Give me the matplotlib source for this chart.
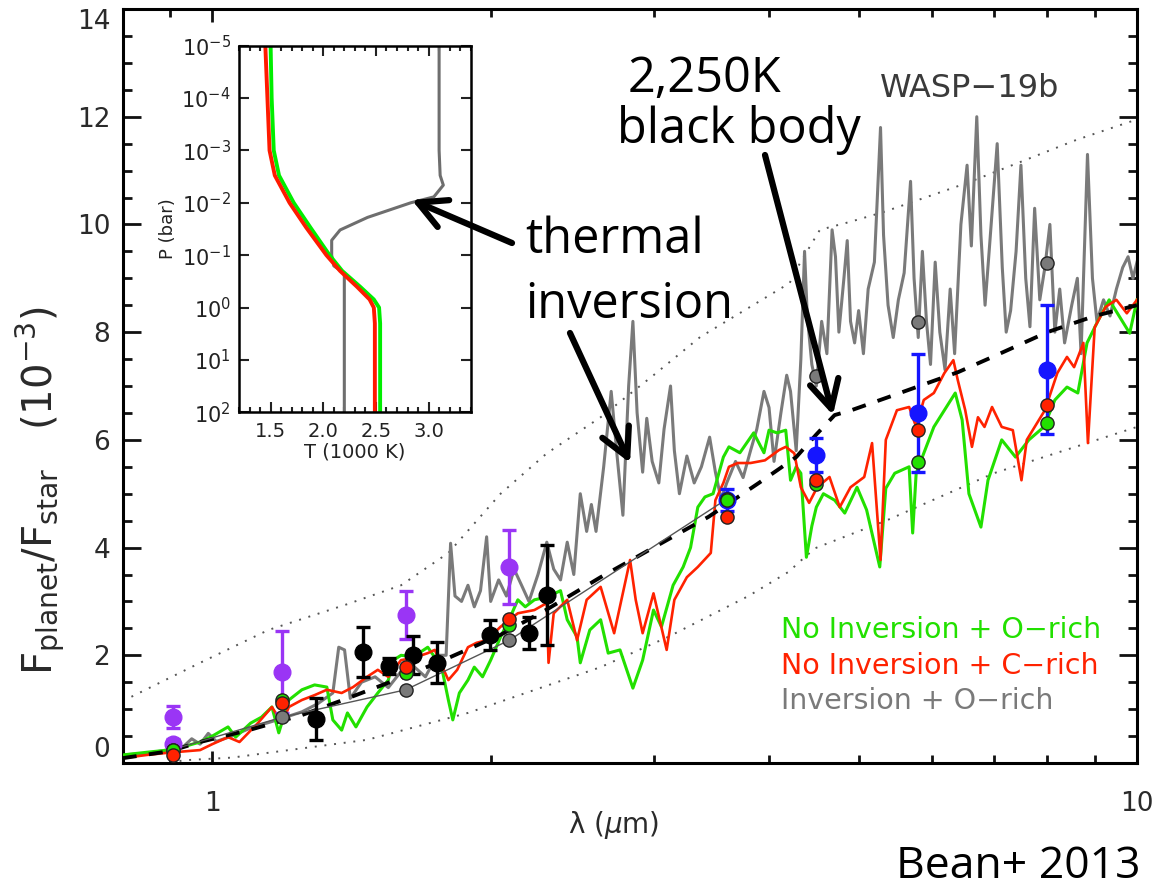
import numpy as np
import matplotlib
matplotlib.use('Agg')
import matplotlib.pyplot as plt
from matplotlib.ticker import FixedLocator, MultipleLocator, NullFormatter, NullLocator

# ---------------- data ----------------
# model spectra (wavelength in micron, Fp/Fs in 1e-3)
inv_wl = [0.80, 0.85, 0.90, 0.93, 0.95, 0.97, 0.99, 1.01, 1.05, 1.10, 1.15, 1.20, 1.25, 1.30,
          1.35, 1.37, 1.39, 1.41, 1.45, 1.50, 1.55, 1.60, 1.65, 1.70, 1.75, 1.79, 1.81, 1.83,
          1.86, 1.89, 1.92, 1.95, 1.98, 2.00, 2.04, 2.08, 2.12, 2.16, 2.20, 2.25, 2.30, 2.34,
          2.38, 2.42, 2.46, 2.50, 2.54, 2.57, 2.60, 2.65, 2.70, 2.74, 2.78, 2.82, 2.85, 2.88,
          2.92, 2.95, 2.99, 3.04, 3.08, 3.13, 3.16, 3.20, 3.26, 3.32, 3.38, 3.45, 3.50, 3.55,
          3.60, 3.68, 3.75, 3.82, 3.88, 3.95, 4.00, 4.05, 4.12, 4.18, 4.22, 4.28, 4.33, 4.37,
          4.40, 4.45, 4.50, 4.56, 4.62, 4.68, 4.72, 4.76, 4.82, 4.86, 4.90, 4.95, 5.00, 5.06,
          5.12, 5.20, 5.28, 5.32, 5.38, 5.45, 5.52, 5.60, 5.69, 5.74, 5.80, 5.86, 5.92, 5.98,
          6.05, 6.12, 6.20, 6.28, 6.35, 6.45, 6.55, 6.62, 6.71, 6.78, 6.85, 6.92, 7.06, 7.15,
          7.22, 7.30, 7.40, 7.49, 7.58, 7.66, 7.75, 7.85, 7.95, 8.05, 8.15, 8.25, 8.35, 8.50,
          8.62, 8.70, 8.84, 8.95, 9.05, 9.20, 9.35, 9.50, 9.65, 9.78, 9.90, 10.0]
inv_val = [0.15, 0.18, 0.25, 0.30, 0.45, 0.35, 0.55, 0.40, 0.50, 0.65, 0.75, 0.85, 0.95, 1.10,
           1.30, 2.15, 2.10, 1.20, 1.50, 1.60, 1.40, 1.70, 1.80, 1.60, 2.00, 2.00, 4.08, 3.10,
           3.00, 3.30, 2.90, 3.20, 4.20, 3.00, 3.40, 3.10, 3.60, 3.30, 3.00, 3.50, 4.10, 3.60,
           3.40, 4.10, 3.50, 5.00, 4.30, 4.80, 4.30, 5.50, 6.90, 5.70, 4.60, 7.00, 8.20, 6.50,
           5.40, 6.40, 5.60, 5.20, 6.20, 7.00, 5.80, 5.00, 5.70, 5.20, 5.50, 6.05, 5.40, 4.90,
           5.20, 5.60, 5.30, 5.80, 6.20, 6.90, 6.60, 5.60, 6.50, 7.20, 6.90, 5.80, 7.50, 9.50,
           8.30, 7.40, 7.00, 8.20, 7.60, 9.90, 9.40, 8.00, 9.00, 9.70, 8.20, 7.80, 8.40, 7.60,
           8.80, 9.30, 11.8, 9.80, 8.50, 7.90, 8.60, 9.10, 10.8, 9.00, 7.90, 9.50, 8.20, 7.40,
           9.30, 8.00, 7.30, 8.80, 7.60, 10.0, 11.1, 9.60, 12.0, 9.80, 8.50, 9.50, 11.5, 9.20,
           8.00, 8.40, 9.50, 11.1, 9.00, 8.10, 10.3, 8.60, 9.20, 10.0, 8.00, 8.80, 7.80, 8.50,
           9.00, 7.60, 11.3, 9.00, 8.20, 8.60, 8.30, 8.80, 9.20, 9.40, 9.00, 9.30]

orich_wl = [0.80, 0.85, 0.895, 0.93, 0.97, 1.00, 1.04, 1.06, 1.10, 1.13, 1.16, 1.18, 1.21, 1.25,
            1.29, 1.33, 1.35, 1.38, 1.40, 1.43, 1.47, 1.51, 1.55, 1.57, 1.60, 1.65, 1.71, 1.77,
            1.80, 1.82, 1.85, 1.89, 1.92, 1.96, 2.00, 2.05, 2.10, 2.14, 2.18, 2.23, 2.30, 2.38,
            2.42, 2.48, 2.50, 2.56, 2.63, 2.68, 2.76, 2.85, 2.92, 3.00, 3.06, 3.15, 3.23, 3.29,
            3.35, 3.41, 3.48, 3.57, 3.62, 3.72, 3.85, 3.95, 4.00, 4.08, 4.17, 4.22, 4.28, 4.33,
            4.39, 4.45, 4.50, 4.58, 4.71, 4.83, 4.98, 5.10, 5.27, 5.35, 5.47, 5.67, 5.72, 5.77,
            5.88, 6.03, 6.19, 6.36, 6.47, 6.58, 6.78, 6.90, 7.14, 7.39, 7.64, 7.93, 8.15, 8.40,
            8.63, 8.83, 9.08, 9.33, 9.58, 9.82, 10.0]
orich_val = [0.15, 0.20, 0.24, 0.30, 0.39, 0.50, 0.67, 0.48, 0.74, 0.85, 1.04, 0.56, 1.17, 1.36,
             1.45, 1.41, 0.80, 0.61, 0.93, 0.67, 1.04, 1.30, 1.54, 1.91, 2.00, 1.97, 2.15, 1.78,
             1.17, 0.80, 1.30, 1.54, 1.78, 1.60, 1.91, 2.34, 2.71, 3.03, 2.90, 3.03, 3.08, 3.20,
             2.66, 2.34, 1.86, 2.47, 2.66, 2.04, 2.10, 1.39, 1.91, 2.84, 2.53, 3.30, 3.64, 4.00,
             4.75, 4.94, 5.00, 5.68, 5.87, 5.76, 6.13, 5.76, 6.18, 6.13, 6.18, 5.25, 5.50, 5.38,
             3.82, 4.40, 4.75, 5.00, 4.88, 4.64, 5.12, 4.70, 3.64, 5.10, 5.38, 5.50, 4.27, 5.38,
             5.75, 6.24, 6.55, 6.87, 6.37, 5.00, 4.38, 5.25, 6.00, 5.68, 6.00, 6.24, 6.74, 6.98,
             6.87, 7.80, 8.22, 8.60, 8.28, 7.98, 8.60]

crich_wl = [0.80, 0.85, 0.895, 0.97, 1.00, 1.04, 1.07, 1.12, 1.16, 1.19, 1.21, 1.25, 1.29, 1.33,
            1.38, 1.42, 1.47, 1.51, 1.55, 1.60, 1.65, 1.71, 1.74, 1.80, 1.84, 1.89, 1.93, 1.98,
            2.05, 2.14, 2.23, 2.30, 2.31, 2.34, 2.42, 2.48, 2.54, 2.63, 2.72, 2.83, 2.87, 2.92,
            3.00, 3.10, 3.16, 3.26, 3.35, 3.46, 3.50, 3.57, 3.62, 3.70, 3.82, 3.96, 4.10, 4.17,
            4.26, 4.33, 4.42, 4.51, 4.65, 4.77, 4.90, 5.07, 5.17, 5.28, 5.35, 5.50, 5.67, 5.77,
            5.88, 6.03, 6.19, 6.33, 6.40, 6.52, 6.63, 6.73, 6.84, 6.97, 7.14, 7.34, 7.50, 7.60,
            7.95, 8.20, 8.40, 8.55, 8.75, 8.85, 9.00, 9.25, 9.50, 9.75, 10.0]
crich_val = [0.09, 0.15, 0.19, 0.24, 0.35, 0.48, 0.39, 0.74, 1.04, 0.74, 1.04, 1.17, 1.26, 1.36,
             1.30, 1.41, 1.60, 1.73, 1.60, 1.91, 1.95, 2.04, 2.10, 1.54, 1.73, 2.15, 2.23, 2.28,
             2.53, 2.78, 2.84, 2.97, 1.86, 2.78, 3.03, 2.28, 3.03, 3.27, 2.41, 3.77, 3.03, 2.41,
             3.15, 2.10, 3.03, 3.45, 3.64, 3.90, 4.88, 5.20, 5.50, 5.57, 5.57, 5.62, 5.81, 5.87,
             5.75, 5.12, 4.83, 5.12, 5.31, 4.75, 5.12, 5.31, 5.94, 3.77, 6.00, 6.55, 6.61, 6.24,
             6.74, 6.87, 7.24, 7.48, 7.11, 6.55, 5.87, 6.42, 6.24, 6.61, 6.24, 6.18, 5.25, 6.00,
             6.55, 7.24, 7.54, 7.35, 7.80, 5.94, 8.09, 8.47, 8.60, 8.35, 8.60]

# 2,250 K black body and envelopes
bb_wl = [0.80, 0.90, 0.97, 1.10, 1.25, 1.40, 1.60, 1.80, 2.05, 2.30, 2.63, 3.00, 3.44, 3.90,
         4.28, 4.50, 4.71, 4.91, 5.50, 6.41, 7.00, 8.00, 9.00, 10.0]
bb_val = [0.09, 0.22, 0.39, 0.62, 0.89, 1.20, 1.58, 1.95, 2.38, 2.85, 3.45, 4.00, 4.57, 5.20,
          5.68, 6.10, 6.46, 6.55, 6.85, 7.26, 7.55, 8.00, 8.30, 8.50]
up_wl = [0.80, 0.97, 1.15, 1.40, 1.60, 1.80, 2.05, 2.30, 2.63, 3.00, 3.37, 3.80, 4.21, 4.32,
         4.54, 4.90, 5.32, 6.55, 8.60, 10.0]
up_val = [1.15, 1.86, 2.47, 2.95, 3.30, 3.90, 5.00, 5.75, 6.42, 7.20, 7.91, 8.45, 8.91, 9.28,
          9.90, 10.05, 10.23, 10.77, 11.57, 11.95]
lo_wl = [0.90, 0.93, 1.05, 1.15, 1.47, 1.89, 2.63, 3.11, 3.80, 4.20, 4.37, 4.49, 5.37, 7.00, 10.0]
lo_val = [0.00, 0.05, 0.10, 0.19, 0.43, 0.93, 1.78, 2.34, 3.10, 3.55, 3.82, 3.99, 4.51, 5.38, 6.24]

# observations
purple_wl = [0.906, 0.906, 1.19, 1.619, 2.095]
purple_val = [0.85, 0.35, 1.69, 2.75, 3.64]
purple_err = [0.20, 0.10, 0.76, 0.44, 0.68]
black_wl = [1.294, 1.454, 1.551, 1.65, 1.75, 1.999, 2.20, 2.30]
black_val = [0.82, 2.06, 1.80, 2.00, 1.86, 2.38, 2.41, 3.12]
black_err = [0.39, 0.47, 0.15, 0.35, 0.38, 0.28, 0.30, 0.92]
blue_wl = [3.6, 4.5, 5.8, 8.0]
blue_val = [4.88, 5.72, 6.50, 7.30]
blue_err = [0.20, 0.31, 1.10, 1.20]

# band-integrated model points
bin_wl = [0.906, 1.19, 1.619, 2.095, 3.6, 4.5, 5.8, 8.0]
bin_inv = [0.25, 0.85, 1.36, 2.28, 4.90, 7.18, 8.19, 9.28]
bin_orich = [0.24, 1.17, 1.67, 2.56, 4.88, 5.18, 5.59, 6.31]
bin_crich = [0.15, 1.12, 1.78, 2.67, 4.57, 5.25, 6.18, 6.65]

# inset P-T profiles (T in 1000 K, P in bar)
pt_orich_T = [1.50, 1.51, 1.53, 1.58, 1.72, 1.88, 2.06, 2.18, 2.35, 2.48, 2.53, 2.54, 2.54]
pt_orich_P = [1e-5, 1e-4, 1e-3, 3e-3, 1e-2, 3e-2, 1e-1, 2e-1, 4e-1, 7e-1, 1e0, 2e0, 1e2]
pt_crich_T = [1.45, 1.47, 1.49, 1.54, 1.68, 1.84, 2.03, 2.16, 2.32, 2.44, 2.48, 2.49, 2.49]
pt_crich_P = [1e-5, 1e-4, 1e-3, 3e-3, 1e-2, 3e-2, 1e-1, 2e-1, 4e-1, 7e-1, 1e0, 2e0, 1e2]
pt_inv_T = [3.10, 3.10, 3.11, 3.14, 3.05, 2.83, 2.42, 2.16, 2.08, 2.08, 2.10, 2.20, 2.20]
pt_inv_P = [1e-5, 1e-3, 3e-3, 4.6e-3, 7.7e-3, 1e-2, 1.9e-2, 3.3e-2, 5.2e-2, 1e-1, 1.6e-1, 2.2e-1, 1e2]

inset_xticks = [1.5, 2.0, 2.5, 3.0]
inset_yticks = [1e-5, 1e-4, 1e-3, 1e-2, 1e-1, 1e0, 1e1, 1e2]
main_yticks = [0, 2, 4, 6, 8, 10, 12, 14]

# ---------------- figure ----------------
W, H = 1176, 889
fig = plt.figure(figsize=(W / 100, H / 100), dpi=100)
plt.rcParams['font.family'] = ['DejaVu Sans']

def fx(px):
    return px / W

def fy(py):
    return 1 - py / H

GREEN = '#22e000'
RED = '#ff2200'
GRAY = '#7a7a7a'
PURPLE = '#9a35f5'
BLUE = '#1515ff'

ax = fig.add_axes([fx(122.7), fy(763), (1137 - 122.7) / W, (763 - 9) / H])
ax.set_xscale('log')

ax.plot(up_wl, up_val, color='#555555', lw=1.4, ls=(0, (1, 4)), zorder=1)
ax.plot(lo_wl, lo_val, color='#555555', lw=1.4, ls=(0, (1, 4)), zorder=1)
ax.plot(inv_wl, inv_val, color=GRAY, lw=2.2, zorder=2)
ax.plot(orich_wl, orich_val, color=GREEN, lw=2.2, zorder=3)
ax.plot(crich_wl, crich_val, color=RED, lw=1.9, zorder=4)
ax.plot(bb_wl, bb_val, color='black', lw=2.8, ls=(0, (3.6, 3.2)), zorder=5)
ax.plot(bin_wl[:5], bin_inv[:5], color='#555555', lw=1.0, zorder=5)

ebkw = dict(fmt='o', ms=12, capsize=5, elinewidth=2.4, capthick=2.4, zorder=6)
ax.errorbar(purple_wl, purple_val, yerr=purple_err, color=PURPLE, mec=PURPLE, **ebkw)
ax.errorbar(black_wl, black_val, yerr=black_err, color='black', mec='black', **ebkw)
ax.errorbar(blue_wl, blue_val, yerr=blue_err, color=BLUE, mec=BLUE, **ebkw)

mkw = dict(ls='none', marker='o', ms=9.5, mec='#222222', mew=1.0, zorder=7)
ax.plot(bin_wl, bin_inv, mfc=GRAY, **mkw)
ax.plot(bin_wl, bin_orich, mfc=GREEN, **mkw)
ax.plot(bin_wl, bin_crich, mfc=RED, **mkw)

ax.set_xlim(0.8, 10)
ax.set_ylim(0, 14)
ax.xaxis.set_major_locator(FixedLocator([1, 10]))
ax.xaxis.set_minor_locator(FixedLocator([0.9, 2, 3, 4, 5, 6, 7, 8, 9]))
ax.xaxis.set_minor_formatter(NullFormatter())
ax.set_xticklabels(['1', '10'])
ax.yaxis.set_major_locator(FixedLocator(main_yticks))
ax.yaxis.set_minor_locator(MultipleLocator(0.5))
ax.set_yticklabels([str(v) for v in main_yticks])
for s in ax.spines.values():
    s.set_linewidth(2.2)
ax.tick_params(which='both', direction='in', top=True, right=True, width=2.0, colors='#111111',
               labelcolor='#2a2a2a')
ax.tick_params(axis='y', which='major', length=13, labelsize=19, pad=9)
ax.tick_params(axis='y', which='minor', length=6.5)
ax.tick_params(axis='x', which='major', length=9, labelsize=19, pad=20)
ax.tick_params(axis='x', which='minor', length=6)
ylabs = ax.get_yticklabels()
ylabs[0].set_va('bottom')
ylabs[-1].set_va('top')

fig.text(fx(40), fy(490), r'F$_{\rm planet}$/F$_{\rm star}$   (10$^{-3}$)', rotation=90,
         ha='center', va='center', fontsize=29, color='#2a2a2a')
fig.text(fx(614), fy(825), 'λ (' + r'$\mu$' + 'm)', ha='center', va='center', fontsize=20,
         color='#2a2a2a')

# legend-like labels
fig.text(fx(781), fy(638), 'No Inversion + O\u2212rich', color=GREEN, fontsize=20.5, va='baseline')
fig.text(fx(781), fy(674), 'No Inversion + C\u2212rich', color=RED, fontsize=20.5, va='baseline')
fig.text(fx(781), fy(709), 'Inversion + O\u2212rich', color=GRAY, fontsize=20.5, va='baseline')
fig.text(fx(880), fy(97), 'WASP\u221219b', color='#3a3a3a', fontsize=23, va='baseline')

# big annotations
big = dict(family=['Open Sans', 'DejaVu Sans'], fontsize=35, color='black', va='baseline')
fig.text(fx(705), fy(92), '2,250K', ha='center', **big)
fig.text(fx(739), fy(143), 'black body', ha='center', **big)
fig.text(fx(525), fy(253), 'thermal', ha='left', **big)
fig.text(fx(525), fy(318), 'inversion', ha='left', **big)
fig.text(fx(1140), fy(878), 'Bean+ 2013', ha='right', va='baseline',
         family=['Open Sans', 'DejaVu Sans'], fontsize=32, color='black')

aprops = dict(arrowstyle='->,head_length=0.8,head_width=0.42', lw=4.5, color='black',
              mutation_scale=25, shrinkA=0, shrinkB=0)
ax.annotate('', xy=(2.83, 5.57), xycoords='data', xytext=(570, H - 333),
            textcoords='figure pixels', arrowprops=aprops, zorder=8)
ax.annotate('', xy=(4.69, 6.46), xycoords='data', xytext=(765, H - 155),
            textcoords='figure pixels', arrowprops=aprops, zorder=8)

# ---------------- inset ----------------
axi = fig.add_axes([fx(239), fy(412.3), (470.7 - 239) / W, (412.3 - 45.7) / H])
axi.set_facecolor('white')
axi.plot(pt_inv_T, pt_inv_P, color='#6e6e6e', lw=2.2)
axi.plot(pt_orich_T, pt_orich_P, color='#00ee00', lw=2.8)
axi.plot(pt_crich_T, pt_crich_P, color='#ff1a00', lw=2.8)
axi.set_yscale('log')
axi.set_xlim(1.2, 3.4)
axi.set_ylim(1e2, 1e-5)
axi.xaxis.set_major_locator(FixedLocator(inset_xticks))
axi.xaxis.set_minor_locator(MultipleLocator(0.1))
axi.set_xticklabels(['%.1f' % v for v in inset_xticks])
axi.yaxis.set_major_locator(FixedLocator(inset_yticks))
axi.yaxis.set_minor_locator(NullLocator())
axi.set_yticklabels([r'$10^{%d}$' % int(round(np.log10(v))) for v in inset_yticks])
for s in axi.spines.values():
    s.set_linewidth(1.8)
axi.tick_params(which='both', direction='in', top=True, right=True, width=1.5,
                colors='#222222')
axi.tick_params(axis='y', which='major', length=7, pad=6, labelsize=15)
axi.tick_params(axis='x', which='major', length=7, pad=7, labelsize=14)
axi.tick_params(which='minor', length=3.5)
axi.set_xlabel('T (1000 K)', fontsize=14, color='#222222', labelpad=1)
axi.set_ylabel('P (bar)', fontsize=13, color='#222222', labelpad=3)

axi.annotate('', xy=(2.84, 8.8e-3), xycoords='data', xytext=(512, H - 243),
             textcoords='figure pixels', arrowprops=aprops, annotation_clip=False)

fig.savefig('out.png', dpi=100)
